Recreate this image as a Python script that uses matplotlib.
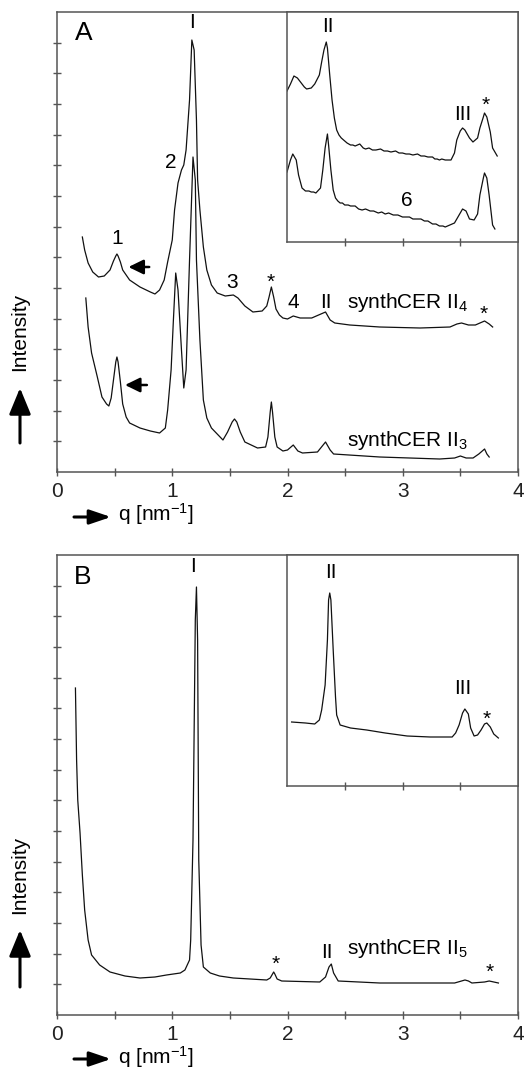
import matplotlib
matplotlib.use("Agg")
import matplotlib.pyplot as plt
from matplotlib.patches import FancyArrowPatch
import numpy as np

plt.rcParams['font.family'] = ['Liberation Sans', 'DejaVu Sans']
plt.rcParams['mathtext.default'] = 'regular'

# ---- panel A, main curves (q in nm^-1, intensity in a.u.) ----
qA4 = [0.22, 0.24, 0.27, 0.31, 0.36, 0.41, 0.46, 0.49, 0.51, 0.52, 0.53, 0.55, 0.57, 0.63,
       0.72, 0.81, 0.85, 0.89, 0.93, 0.96, 1.00, 1.02, 1.05, 1.08, 1.10, 1.12, 1.15, 1.17,
       1.19, 1.21, 1.22, 1.24, 1.27, 1.30, 1.34, 1.39, 1.46, 1.53, 1.57, 1.63, 1.70, 1.78,
       1.82, 1.84, 1.86, 1.88, 1.90, 1.93, 1.96, 2.00, 2.05, 2.11, 2.21, 2.27, 2.33, 2.37,
       2.41, 2.54, 2.80, 3.15, 3.41, 3.47, 3.51, 3.57, 3.63, 3.67, 3.71, 3.75, 3.78]
iA4 = [235, 222, 209, 200, 195, 196, 202, 211, 216, 218, 216, 210, 202, 192,
       185, 180, 178, 182, 192, 210, 232, 262, 289, 302, 307, 322, 372, 432,
       422, 352, 292, 262, 225, 202, 187, 179, 176, 177, 174, 166, 160, 161,
       166, 175, 185, 175, 163, 157, 154, 153, 156, 154, 154, 157, 160, 152,
       149, 147, 145, 144, 145, 148, 149, 147, 147, 149, 151, 148, 145]

qA3 = [0.25, 0.27, 0.30, 0.35, 0.39, 0.43, 0.45, 0.47, 0.49, 0.51, 0.52, 0.53, 0.55, 0.57,
       0.60, 0.63, 0.72, 0.81, 0.89, 0.94, 0.96, 0.99, 1.01, 1.03, 1.05, 1.08, 1.10, 1.12,
       1.15, 1.18, 1.20, 1.21, 1.24, 1.27, 1.30, 1.34, 1.44, 1.48, 1.52, 1.54, 1.56, 1.59,
       1.63, 1.74, 1.81, 1.83, 1.85, 1.86, 1.87, 1.89, 1.91, 1.96, 2.00, 2.05, 2.09, 2.13,
       2.26, 2.33, 2.37, 2.40, 2.80, 3.32, 3.45, 3.50, 3.55, 3.61, 3.66, 3.71, 3.73, 3.75]
iA3 = [174, 145, 119, 95, 75, 68, 66, 74, 92, 110, 115, 110, 90, 68,
       55, 49, 44, 41, 39, 44, 62, 102, 152, 199, 182, 122, 84, 102,
       212, 315, 292, 212, 132, 72, 54, 44, 32, 40, 50, 53, 50, 40,
       30, 24, 25, 35, 60, 70, 60, 35, 25, 21, 22, 27, 21, 19,
       20, 30, 22, 18, 15, 13, 14, 16, 14, 14, 18, 23, 18, 15]

# ---- panel A, inset (q 2..4) ----
qI4 = [2.00, 2.03, 2.06, 2.09, 2.11, 2.15, 2.17, 2.21, 2.24, 2.28, 2.30, 2.32, 2.34, 2.35,
       2.37, 2.39, 2.41, 2.43, 2.45, 2.47, 2.50, 2.52, 2.55, 2.57, 2.59, 2.61, 2.63, 2.66,
       2.68, 2.71, 2.74, 2.77, 2.81, 2.84, 2.87, 2.90, 2.94, 2.97, 3.00, 3.03, 3.06, 3.09,
       3.13, 3.16, 3.19, 3.22, 3.26, 3.28, 3.30, 3.32, 3.34, 3.37, 3.39, 3.42, 3.45, 3.47,
       3.50, 3.52, 3.54, 3.58, 3.61, 3.65, 3.67, 3.70, 3.71, 3.73, 3.76, 3.78, 3.82]
iI4 = [151, 158, 166, 164, 161, 155, 153, 154, 158, 167, 180, 192, 200, 194,
       167, 142, 124, 112, 107, 104, 101, 99, 97, 97, 96, 97, 98, 94,
       93, 94, 92, 92, 93, 91, 91, 90, 91, 89, 89, 88, 88, 87,
       88, 86, 86, 85, 85, 83, 83, 82, 83, 82, 82, 82, 89, 102,
       111, 114, 112, 104, 100, 104, 114, 125, 129, 125, 110, 94, 86]

qI3 = [2.00, 2.03, 2.05, 2.08, 2.10, 2.13, 2.16, 2.19, 2.21, 2.23, 2.25, 2.29, 2.31, 2.33,
       2.35, 2.36, 2.38, 2.40, 2.42, 2.44, 2.46, 2.48, 2.50, 2.53, 2.55, 2.57, 2.59, 2.62,
       2.65, 2.68, 2.72, 2.75, 2.79, 2.82, 2.85, 2.88, 2.92, 2.96, 3.00, 3.03, 3.06, 3.09,
       3.13, 3.16, 3.19, 3.22, 3.26, 3.29, 3.32, 3.35, 3.37, 3.41, 3.45, 3.49, 3.52, 3.55,
       3.58, 3.62, 3.65, 3.67, 3.70, 3.71, 3.73, 3.75, 3.77, 3.78, 3.80]
iI3 = [70, 82, 88, 82, 67, 54, 51, 51, 50, 50, 49, 54, 72, 94,
       108, 97, 72, 52, 44, 41, 39, 39, 37, 37, 36, 36, 36, 33,
       32, 33, 31, 31, 29, 30, 28, 29, 27, 27, 25, 25, 25, 23,
       23, 23, 21, 21, 18, 18, 16, 16, 15, 17, 19, 27, 33, 31,
       23, 22, 28, 47, 64, 69, 64, 47, 27, 17, 13]

# ---- panel B, main curve ----
qB5 = [0.16, 0.17, 0.18, 0.20, 0.22, 0.24, 0.27, 0.30, 0.37, 0.46, 0.59, 0.72, 0.85, 0.95,
       1.07, 1.11, 1.15, 1.16, 1.18, 1.20, 1.21, 1.22, 1.23, 1.25, 1.27, 1.33, 1.41, 1.53,
       1.82, 1.85, 1.87, 1.88, 1.89, 1.91, 1.95, 2.28, 2.33, 2.36, 2.38, 2.40, 2.44, 2.80,
       3.45, 3.51, 3.54, 3.57, 3.60, 3.71, 3.75, 3.83]
iB5 = [327, 255, 215, 182, 140, 105, 75, 60, 50, 43, 39, 37, 38, 40,
       42, 45, 55, 75, 175, 395, 428, 375, 155, 70, 48, 42, 39, 37,
       35, 37, 41, 43, 41, 36, 34, 33, 38, 48, 51, 42, 34, 32,
       32, 34, 35, 34, 32, 33, 34, 32]

# ---- panel B, inset ----
qI5 = [2.04, 2.16, 2.24, 2.28, 2.30, 2.33, 2.35, 2.36, 2.37, 2.38, 2.40, 2.42, 2.43, 2.46,
       2.55, 2.69, 2.85, 3.04, 3.24, 3.43, 3.46, 3.49, 3.52, 3.54, 3.57, 3.59, 3.62, 3.65,
       3.68, 3.71, 3.73, 3.76, 3.79, 3.83]
iI5 = [64, 63, 62, 66, 76, 101, 146, 186, 193, 186, 136, 89, 71, 61,
       58, 56, 53, 50, 49, 49, 53, 61, 73, 77, 72, 58, 50, 51,
       56, 62, 63, 59, 52, 48]

SPINE = '#555555'
W, H = 524, 1069


def fig_rect(x0, y0, x1, y1):
    # pixel box (top-left origin) -> figure fraction rect
    return [x0 / W, (H - y1) / H, (x1 - x0) / W, (y1 - y0) / H]


def px(x, y):
    return (x / W, (H - y) / H)


def style_main(ax):
    ax.set_xlim(0, 4)
    ax.set_ylim(0, 460)
    ax.set_xticks(np.arange(0, 4.01, 0.5))
    ax.set_xticklabels(['0', '', '1', '', '2', '', '3', '', '4'])
    ax.set_yticks(np.linspace(0, 460, 16)[1:-1])
    ax.set_yticklabels([])
    ax.tick_params(direction='inout', length=6, width=1, color=SPINE,
                   labelsize=15, pad=4, labelcolor='#222222')
    for s in ax.spines.values():
        s.set_color(SPINE)
        s.set_linewidth(1.1)


def style_inset(ax, top):
    ax.set_xlim(2, 4)
    ax.set_ylim(0, top)
    ax.set_xticks([2.5, 3.0, 3.5])
    ax.set_xticklabels([])
    ax.set_yticks([])
    ax.tick_params(direction='inout', length=6, width=1, color=SPINE)
    for s in ax.spines.values():
        s.set_color(SPINE)
        s.set_linewidth(1.1)


fig = plt.figure(figsize=(W / 100, H / 100), dpi=100)

axA = fig.add_axes(fig_rect(57, 12, 518, 472))
axB = fig.add_axes(fig_rect(57, 555, 518, 1015))
inA = fig.add_axes(fig_rect(287, 12, 518, 242))
inB = fig.add_axes(fig_rect(287, 555, 518, 786))

lw = 0.9
fs = 15
line = dict(color='#111111', lw=lw, solid_joinstyle='round')

# panel A
axA.plot(qA4, iA4, **line)
axA.plot(qA3, iA3, **line)
style_main(axA)
axA.text(0.23, 439, 'A', fontsize=19, ha='center', va='center')
axA.text(1.17, 449, 'I', fontsize=fs, ha='center', va='center')
axA.text(0.99, 310, '2', fontsize=fs, ha='center', va='center')
axA.text(0.52, 234, '1', fontsize=fs, ha='center', va='center')
axA.text(1.52, 190, '3', fontsize=fs, ha='center', va='center')
axA.text(1.85, 190, '*', fontsize=fs, ha='center', va='center')
axA.text(2.05, 169, '4', fontsize=fs, ha='center', va='center')
axA.text(2.33, 169, 'II', fontsize=fs, ha='center', va='center')
axA.text(2.52, 169, 'synthCER II$_4$', fontsize=fs, ha='left', va='center')
axA.text(3.70, 158, '*', fontsize=fs, ha='center', va='center')
axA.text(2.52, 32, 'synthCER II$_3$', fontsize=fs, ha='left', va='center')
peak_arrow = dict(arrowstyle='-|>,head_length=0.45,head_width=0.22', color='k',
                  lw=1.8, mutation_scale=20, shrinkA=0, shrinkB=0)
axA.annotate('', xy=(0.62, 205), xytext=(0.80, 205), arrowprops=peak_arrow)
axA.annotate('', xy=(0.59, 87), xytext=(0.78, 87), arrowprops=peak_arrow)

inA.plot(qI4, iI4, **line)
inA.plot(qI3, iI3, **line)
style_inset(inA, 230)
inA.text(2.35, 215, 'II', fontsize=fs, ha='center', va='center')
inA.text(3.52, 127, 'III', fontsize=fs, ha='center', va='center')
inA.text(3.72, 137, '*', fontsize=fs, ha='center', va='center')
inA.text(3.04, 42, '6', fontsize=fs, ha='center', va='center')

# panel B
axB.plot(qB5, iB5, **line)
style_main(axB)
axB.text(0.22, 438, 'B', fontsize=19, ha='center', va='center')
axB.text(1.18, 448, 'I', fontsize=fs, ha='center', va='center')
axB.text(1.90, 51, '*', fontsize=fs, ha='center', va='center')
axB.text(2.34, 62, 'II', fontsize=fs, ha='center', va='center')
axB.text(2.52, 67, 'synthCER II$_5$', fontsize=fs, ha='left', va='center')
axB.text(3.75, 43, '*', fontsize=fs, ha='center', va='center')

inB.plot(qI5, iI5, **line)
style_inset(inB, 231)
inB.text(2.38, 214, 'II', fontsize=fs, ha='center', va='center')
inB.text(3.52, 98, 'III', fontsize=fs, ha='center', va='center')
inB.text(3.73, 67, '*', fontsize=fs, ha='center', va='center')

# axis labels with arrows (figure pixels)
v_arrow = dict(arrowstyle='-|>,head_length=0.8,head_width=0.33', color='k',
               lw=2.2, mutation_scale=20, shrinkA=0, shrinkB=0)
h_arrow = dict(arrowstyle='-|>,head_length=0.65,head_width=0.22', color='k',
               lw=2.2, mutation_scale=20, shrinkA=0, shrinkB=0)
for ycen, ytail, yhead, y_arr, y_txt in [(332, 443, 388, 517, 514),
                                         (875, 987, 930, 1059, 1057)]:
    fig.text(*px(20, ycen), 'Intensity', rotation=90, fontsize=fs,
             ha='center', va='center')
    fig.add_artist(FancyArrowPatch(px(20, ytail), px(20, yhead),
                                   transform=fig.transFigure, **v_arrow))
    fig.add_artist(FancyArrowPatch(px(74, y_arr), px(111, y_arr),
                                   transform=fig.transFigure, **h_arrow))
    fig.text(*px(118, y_txt), 'q [nm$^{-1}$]', fontsize=fs,
             ha='left', va='center')

fig.savefig('out.png', dpi=100)
